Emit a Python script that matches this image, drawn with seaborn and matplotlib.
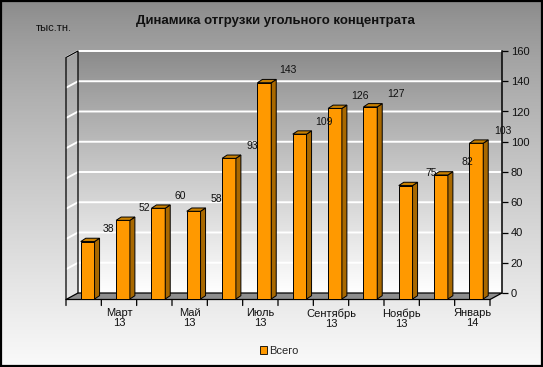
import numpy as np
import pandas as pd
import matplotlib
matplotlib.use("Agg")
import matplotlib.pyplot as plt
from matplotlib.patches import Polygon, Patch
from matplotlib.transforms import ScaledTranslation
import seaborn as sns

# ---------------- data ----------------
months = ["Февраль\n13", "Март\n13", "Апрель\n13", "Май\n13", "Июнь\n13", "Июль\n13",
          "Август\n13", "Сентябрь\n13", "Октябрь\n13", "Ноябрь\n13", "Декабрь\n13", "Январь\n14"]
values = [38, 52, 60, 58, 93, 143, 109, 126, 127, 75, 82, 103]
shown_labels = ["", "Март\n13", "", "Май\n13", "", "Июль\n13",
                "", "Сентябрь\n13", "", "Ноябрь\n13", "", "Январь\n14"]
y_ticks = [0, 20, 40, 60, 80, 100, 120, 140, 160]
title = "Динамика отгрузки угольного концентрата"
unit_label = "тыс.тн."
series_name = "Всего"

df = pd.DataFrame({"month": months, "value": values})

# ---------------- style ----------------
sns.set_style("white")
plt.rcParams["font.family"] = ["Liberation Sans", "DejaVu Sans"]

W, H, DPI = 543, 367, 100
fig = plt.figure(figsize=(W / DPI, H / DPI), dpi=DPI)

# figure background gradient
bg = fig.add_axes([0, 0, 1, 1], zorder=-10)
grad = np.linspace(0, 1, 256).reshape(-1, 1) ** 0.8
top_c, bot_c = np.array([0.54, 0.54, 0.54]), np.array([0.98, 0.98, 0.98])
img = top_c + (bot_c - top_c) * grad[..., None]
bg.imshow(np.repeat(img, 2, axis=1), aspect="auto", extent=(0, 1, 0, 1))
bg.set_axis_off()
bg.add_patch(plt.Rectangle((0.001, 0.002), 0.997, 0.996, fill=False, ec="black", lw=1.6,
                           transform=bg.transAxes))

# main axes = back wall
L, R, T, B = 78, 502, 51, 293
ax = fig.add_axes([L / W, 1 - B / H, (R - L) / W, (B - T) / H])
ax.patch.set_alpha(0)

ncat = len(months)
px_cat = (R - L) / ncat
px_val = (B - T) / 160.0

# back-wall gradient
wg = np.linspace(0, 1, 256).reshape(-1, 1) ** 0.9
wtop, wbot = np.array([0.54, 0.54, 0.54]), np.array([1.0, 1.0, 1.0])
wimg = wtop + (wbot - wtop) * wg[..., None]
ax.imshow(np.repeat(wimg, 2, axis=1), aspect="auto", extent=(-0.5, ncat - 0.5, 0, 160), zorder=0)

# bars
sns.barplot(data=df, x="month", y="value", color="#FF9900", saturation=1, width=0.39,
            edgecolor="black", linewidth=0.7, ax=ax, zorder=3)

ax.set_xlim(-0.5, ncat - 0.5)
ax.set_ylim(0, 160)

# depth geometry (floor & walls)
fdx, fdy = 12 / px_cat, 6.5 / px_val
# bar depth
bdx, bdy = 5 / px_cat, 3.3 / px_val
shift = ax.transData + ScaledTranslation(-8 / DPI, -6 / DPI, fig.dpi_scale_trans)

bars = list(ax.patches)
for p in bars:
    p.set_transform(shift)
    p.set_clip_on(False)
    x, w, h = p.get_x(), p.get_width(), p.get_height()
    side = Polygon([(x + w, 0), (x + w, h), (x + w + bdx, h + bdy), (x + w + bdx, bdy)],
                   closed=True, fc="#A86800", ec="black", lw=0.7, transform=shift,
                   zorder=3, clip_on=False)
    topf = Polygon([(x, h), (x + w, h), (x + w + bdx, h + bdy), (x + bdx, h + bdy)],
                   closed=True, fc="#C98000", ec="black", lw=0.7, transform=shift,
                   zorder=3, clip_on=False)
    ax.add_patch(side)
    ax.add_patch(topf)

# grid lines (back wall + left wall)
x0, x1 = -0.5, ncat - 0.5
for v in y_ticks[1:]:
    ax.plot([x0 - fdx, x0, x1], [v - fdy, v, v], color="white", lw=1.4, zorder=1,
            clip_on=False, solid_capstyle="butt")

# floor
floor = Polygon([(x0, 0), (x1, 0), (x1 - fdx, -fdy), (x0 - fdx, -fdy)], closed=True,
                fc="#8e8e8e", ec="black", lw=0.9, zorder=1.5, clip_on=False)
ax.add_patch(floor)
# left wall outline
ax.plot([x0 - fdx, x0 - fdx, x0, x0], [-fdy, 160 - fdy, 160, 0], color="black", lw=0.9,
        zorder=1.6, clip_on=False)

# x tick marks along floor front edge
for k in range(ncat + 1):
    xx = k - 0.5 - fdx
    ax.annotate("", xy=(xx, -fdy), xytext=(0, -6), textcoords="offset pixels",
                arrowprops=dict(arrowstyle="-", color="black", lw=0.9,
                                shrinkA=0, shrinkB=0), annotation_clip=False)

# x category labels (under floor front slots)
for i, lab in enumerate(shown_labels):
    if lab:
        ax.annotate(lab, xy=(i - fdx, -fdy), xytext=(0, -9), textcoords="offset pixels",
                    ha="center", va="top", fontsize=8, linespacing=0.95,
                    annotation_clip=False, color="#111111")

# data labels
for i, v in enumerate(values):
    dx = -8 + 21 + 0.55 * i
    dy = 12.5 - 6
    ax.annotate(str(v), xy=(i, v), xytext=(dx, dy), textcoords="offset pixels",
                ha="center", va="center", fontsize=7.5, color="#111111",
                annotation_clip=False, zorder=5)

# right value axis
ax.set_xticks([])
ax.set_xlabel("")
ax.set_ylabel("")
ax.set_yticks(y_ticks)
ax.yaxis.set_ticks_position("right")
ax.tick_params(axis="y", which="both", right=True, left=False, labelright=True,
               labelleft=False, direction="out", length=4.3, width=0.9,
               color="black", labelsize=8, pad=2, labelcolor="#111111")
for s in ["left", "top", "bottom"]:
    ax.spines[s].set_visible(False)
ax.spines["right"].set_visible(True)
ax.spines["right"].set_color("black")
ax.spines["right"].set_linewidth(1.1)

# titles
fig.text(275 / W, 1 - 21 / H, title, ha="center", va="center", fontsize=9.5,
         fontweight="bold", color="#111111")
fig.text(36 / W, 1 - 28 / H, unit_label, ha="left", va="center", fontsize=8,
         color="#111111")

# legend
handle = Patch(facecolor="#FF9900", edgecolor="black", linewidth=0.6, label=series_name)
fig.legend(handles=[handle], loc="center", bbox_to_anchor=(279 / W, 1 - 351 / H),
           frameon=False, fontsize=8, handlelength=0.7, handleheight=0.7,
           handletextpad=0.15, borderpad=0)

fig.savefig("out.png", dpi=DPI)
